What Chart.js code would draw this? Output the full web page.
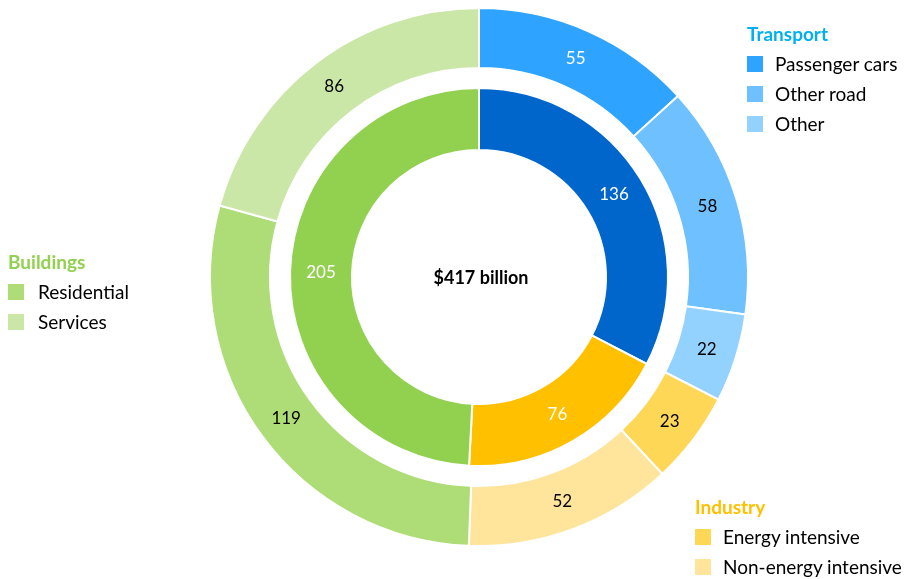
<!DOCTYPE html>
<html>
<head>
<meta charset="utf-8">
<script src="https://cdn.jsdelivr.net/npm/chart.js@4/dist/chart.umd.min.js"></script>
<style>
  body { margin: 0; background: #fff; font-family: Lato, "Open Sans", sans-serif; }
  #wrap { position: relative; width: 910px; height: 579px; }
  #spend { position: absolute; left: 0; top: 0; }
  .group { position: absolute; font-size: 19px; color: #000; }
  .group .title { font-weight: bold; font-size: 19px; height: 30px; line-height: 30px; }
  .group .item { height: 30px; line-height: 30px; display: flex; align-items: center; }
  .group .sw { width: 16px; height: 16px; margin-right: 12px; }
  #lg-buildings .sw { margin-right: 14px; }
  #total { position: absolute; left: 379px; top: 266px; width: 204px; text-align: center;
           font-weight: bold; font-size: 18px; }
</style>
</head>
<body>
<div id="wrap">
  <canvas id="spend" width="910" height="579"></canvas>
  <div id="total"></div>
  <div class="group" id="lg-transport" style="left:747px; top:19px;"></div>
  <div class="group" id="lg-buildings" style="left:8px; top:247px;"></div>
  <div class="group" id="lg-industry" style="left:695px; top:492px;"></div>
</div>
<script>
// sectors (inner ring), clockwise from the top
const sectors = ['Transport', 'Industry', 'Buildings'];
const sectorValues = [136, 76, 205];
const sectorColors = ['#0066CC', '#FFC000', '#92D050'];
const titleColors = ['#00B0F0', '#FFC000', '#92D050'];

// sub-sectors (outer ring), same order
const subSectors = ['Passenger cars', 'Other road', 'Other', 'Energy intensive', 'Non-energy intensive', 'Residential', 'Services'];
const subValues = [55, 58, 22, 23, 52, 119, 86];
const subParent = [0, 0, 0, 1, 1, 2, 2];
const subColors = ['#2EA3FF', '#6EC0FF', '#93D1FF', '#FFD757', '#FFE49B', '#AEDC76', '#CBE7A8'];
const subLabelColors = ['#fff', '#000', '#000', '#000', '#000', '#000', '#000'];

const total = sectorValues.reduce((a, b) => a + b, 0);
document.getElementById('total').textContent = '$' + total + ' billion';

// legend blocks
const legendIds = ['lg-transport', 'lg-industry', 'lg-buildings'];
sectors.forEach((s, si) => {
  const box = document.getElementById(legendIds[si]);
  let html = '<div class="title" style="color:' + titleColors[si] + '">' + s + '</div>';
  subSectors.forEach((name, i) => {
    if (subParent[i] !== si) return;
    html += '<div class="item"><span class="sw" style="background:' + subColors[i] + '"></span>' + name + '</div>';
  });
  box.innerHTML = html;
});

// writes the value in the middle of each slice
const sliceLabels = {
  id: 'sliceLabels',
  afterDatasetsDraw(chart) {
    const ctx = chart.ctx;
    ctx.save();
    ctx.font = '17px Lato, "Open Sans", sans-serif';
    ctx.textAlign = 'center';
    ctx.textBaseline = 'middle';
    chart.data.datasets.forEach((ds, di) => {
      if (!ds.labelColors) return;
      chart.getDatasetMeta(di).data.forEach((arc, i) => {
        const p = arc.getCenterPoint();
        ctx.fillStyle = ds.labelColors[i];
        ctx.fillText(ds.data[i], p.x, p.y);
      });
    });
    ctx.restore();
  }
};

new Chart(document.getElementById('spend'), {
  type: 'doughnut',
  data: {
    labels: subSectors,
    datasets: [
      {
        data: subValues,
        backgroundColor: subColors,
        borderColor: '#fff',
        borderWidth: 2,
        weight: 60,
        labelColors: subLabelColors
      },
      {
        // blank ring between the two
        data: [1],
        backgroundColor: 'rgba(0,0,0,0)',
        borderWidth: 0,
        weight: 20
      },
      {
        data: sectorValues,
        backgroundColor: sectorColors,
        borderColor: '#fff',
        borderWidth: 2,
        weight: 62,
        labelColors: ['#fff', '#fff', '#fff']
      }
    ]
  },
  options: {
    responsive: false,
    animation: false,
    cutout: 127,
    layout: { padding: { left: 209, right: 161, top: 7, bottom: 32 } },
    plugins: {
      legend: { display: false },
      tooltip: { enabled: false }
    }
  },
  plugins: [sliceLabels]
});
</script>
</body>
</html>
